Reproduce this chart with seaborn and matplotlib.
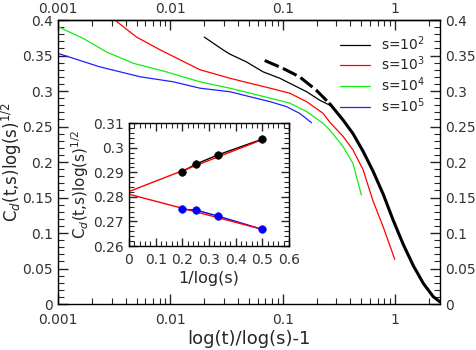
import numpy as np
import pandas as pd
import matplotlib
matplotlib.use("Agg")
import matplotlib.pyplot as plt
from matplotlib.ticker import MultipleLocator, LogLocator, NullFormatter
import seaborn as sns

# main panel curves
s2_x = [0.0200, 0.0294, 0.0338, 0.0475, 0.0668, 0.094, 0.115, 0.163, 0.213, 0.262]
s2_y = [0.376, 0.358, 0.352, 0.341, 0.327, 0.318, 0.311, 0.299, 0.287, 0.280]

dash_x = [0.069, 0.100, 0.141, 0.199, 0.262]
dash_y = [0.343, 0.332, 0.320, 0.301, 0.282]

thick_x = [0.262, 0.344, 0.421, 0.518, 0.635, 0.78, 0.959, 1.178, 1.448, 1.778, 2.18, 2.5]
thick_y = [0.282, 0.259, 0.240, 0.215, 0.187, 0.155, 0.118, 0.084, 0.054, 0.029, 0.0103, 0.003]

s3_x = [0.0032, 0.005, 0.0081, 0.0183, 0.0338, 0.0509, 0.077, 0.115, 0.163, 0.228,
        0.262, 0.344, 0.421, 0.518, 0.635, 0.78, 0.99]
s3_y = [0.400, 0.376, 0.358, 0.330, 0.318, 0.311, 0.304, 0.297, 0.285, 0.2686,
        0.256, 0.236, 0.217, 0.189, 0.145, 0.109, 0.063]

s4_x = [0.001, 0.00168, 0.0027, 0.0047, 0.0092, 0.0183, 0.0338, 0.0509, 0.077, 0.115,
        0.163, 0.228, 0.262, 0.344, 0.421, 0.50]
s4_y = [0.3906, 0.374, 0.355, 0.339, 0.327, 0.313, 0.304, 0.297, 0.290, 0.283,
        0.271, 0.2545, 0.245, 0.2216, 0.198, 0.1535]

s5_x = [0.001, 0.00236, 0.0054, 0.0106, 0.0183, 0.0338, 0.0509, 0.077, 0.108, 0.141, 0.18]
s5_y = [0.353, 0.334, 0.320, 0.313, 0.304, 0.299, 0.292, 0.285, 0.278, 0.2686, 0.2554]

# inset: finite-size extrapolation
inv_log_s = [0.2, 0.25, 0.3333, 0.5]
upper_pts = [0.2903, 0.2933, 0.2971, 0.3035]
lower_pts = [0.2749, 0.2747, 0.2722, 0.2668]
fit_x = [0.0, 0.5]
upper_fit = [0.2822, 0.3033]
lower_fit = [0.2811, 0.2668]

x_ticks = [0.001, 0.01, 0.1, 1]
x_labels = ['0.001', '0.01', '0.1', '1']

sns.set_style("ticks")
plt.rcParams['font.family'] = ['DejaVu Sans']
tick_col = '#333333'

fig = plt.figure(figsize=(4.76, 3.5), dpi=100)
ax = fig.add_axes([0.1218, 0.1314, 0.8025, 0.8114])

sns.lineplot(x=s2_x, y=s2_y, ax=ax, color='black', lw=0.9, sort=False, label='s=10$^2$')
sns.lineplot(x=s3_x, y=s3_y, ax=ax, color='#ff0000', lw=0.9, sort=False, label='s=10$^3$')
sns.lineplot(x=s4_x, y=s4_y, ax=ax, color='#11ee11', lw=0.9, sort=False, label='s=10$^4$')
sns.lineplot(x=s5_x, y=s5_y, ax=ax, color='#2020ff', lw=0.9, sort=False, label='s=10$^5$')
sns.lineplot(x=dash_x, y=dash_y, ax=ax, color='black', lw=2.2, sort=False,
             linestyle=(0, (5, 1.5)))
sns.lineplot(x=thick_x, y=thick_y, ax=ax, color='black', lw=2.2, sort=False)

ax.set_xscale('log')
ax.set_xlim(0.001, 2.5)
ax.set_ylim(0, 0.4)
ax.set_xticks(x_ticks)
ax.set_xticklabels(x_labels)
ax.set_yticks([0, 0.05, 0.1, 0.15, 0.2, 0.25, 0.3, 0.35, 0.4])
ax.set_yticklabels(['0', '0.05', '0.1', '0.15', '0.2', '0.25', '0.3', '0.35', '0.4'])
ax.yaxis.set_minor_locator(MultipleLocator(0.01))
ax.tick_params(which='both', direction='in', top=False, right=True,
               labelright=True, labelsize=10, labelcolor=tick_col)
ax.tick_params(axis='x', which='major', pad=6.5)
ax.tick_params(which='major', length=7, width=1)
ax.tick_params(which='minor', length=4, width=0.8)
for sp in ax.spines.values():
    sp.set_color('black')
    sp.set_linewidth(1)

top = ax.secondary_xaxis('top')
top.set_xticks(x_ticks)
top.set_xticklabels(x_labels)
top.xaxis.set_minor_locator(LogLocator(base=10, subs=np.arange(2, 10)))
top.xaxis.set_minor_formatter(NullFormatter())
top.tick_params(which='both', direction='in', labelsize=10, labelcolor=tick_col, pad=3)
top.tick_params(which='major', length=7, width=1)
top.tick_params(which='minor', length=4, width=0.8)
top.spines['top'].set_linewidth(1)

ax.set_xlabel('log(t)/log(s)-1', fontsize=13, labelpad=2)
ax.set_ylabel('C$_d$(t,s)log(s)$^{1/2}$', fontsize=12)
ax.yaxis.set_label_coords(-0.088, 0.5)
ax.legend(loc='upper right', bbox_to_anchor=(0.995, 0.995), frameon=False, fontsize=10,
          handlelength=2.2, labelspacing=0.15, handletextpad=0.8)

ins = fig.add_axes([0.271, 0.297, 0.336, 0.351])
sns.lineplot(x=inv_log_s, y=upper_pts, ax=ins, color='black', lw=1)
sns.lineplot(x=inv_log_s, y=lower_pts, ax=ins, color='#0000ff', lw=1)
sns.lineplot(x=fit_x, y=upper_fit, ax=ins, color='#ff0000', lw=1)
sns.lineplot(x=fit_x, y=lower_fit, ax=ins, color='#ff0000', lw=1)
sns.scatterplot(x=inv_log_s, y=upper_pts, ax=ins, color='black', s=30, edgecolor='black', zorder=3)
sns.scatterplot(x=inv_log_s, y=lower_pts, ax=ins, color='#0000ff', s=30, edgecolor='#0000ff', zorder=3)
ins.set_xlim(0, 0.6)
ins.set_ylim(0.26, 0.31)
ins.set_xticks([0, 0.1, 0.2, 0.3, 0.4, 0.5, 0.6])
ins.set_xticklabels(['0', '0.1', '0.2', '0.3', '0.4', '0.5', '0.6'])
ins.set_yticks([0.26, 0.27, 0.28, 0.29, 0.3, 0.31])
ins.set_yticklabels(['0.26', '0.27', '0.28', '0.29', '0.3', '0.31'])
ins.xaxis.set_minor_locator(MultipleLocator(0.02))
ins.yaxis.set_minor_locator(MultipleLocator(0.002))
ins.tick_params(which='both', direction='in', top=True, right=True, labelsize=10, labelcolor=tick_col)
ins.tick_params(axis='x', which='major', pad=5)
ins.tick_params(which='major', length=6, width=1)
ins.tick_params(which='minor', length=3.5, width=0.8)
for sp in ins.spines.values():
    sp.set_color('black')
    sp.set_linewidth(1)
ins.set_xlabel('1/log(s)', fontsize=11.5, labelpad=3)
ins.set_ylabel('C$_d$(t,s)log(s)$^{1/2}$', fontsize=11, labelpad=2)

fig.savefig('out.png', dpi=100)
